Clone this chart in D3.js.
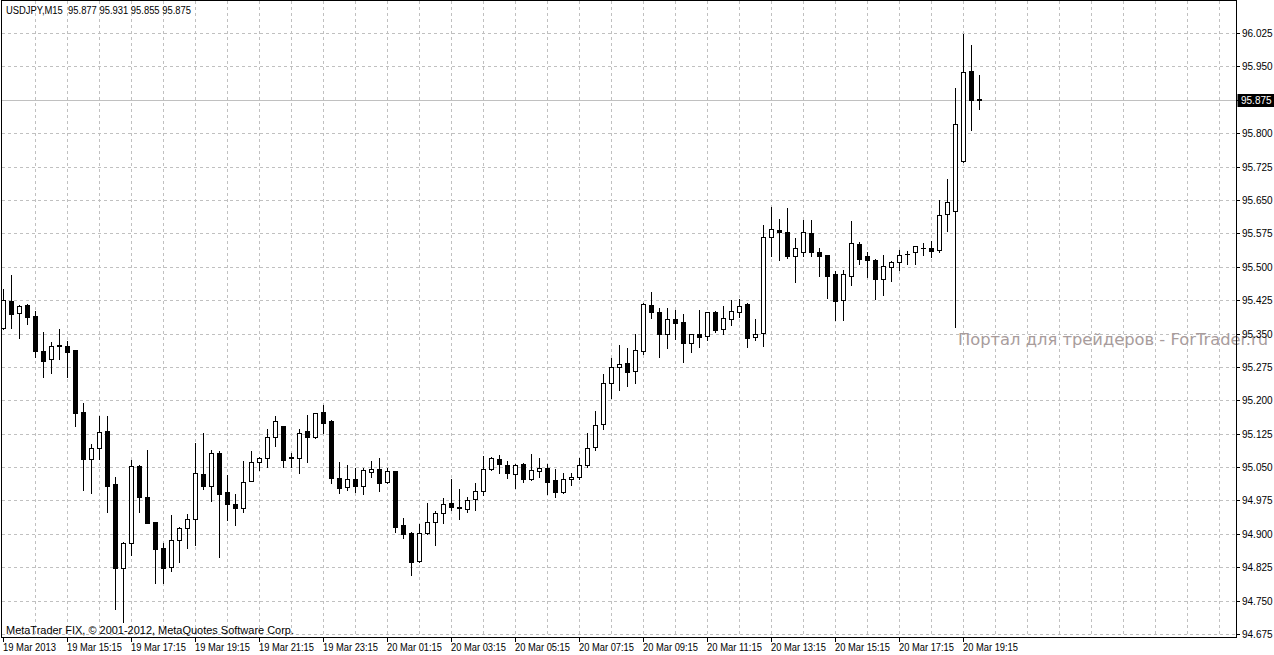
<!DOCTYPE html>
<html><head><meta charset="utf-8">
<script src="https://cdn.jsdelivr.net/npm/d3@7"></script>
<style>html,body{margin:0;padding:0;background:#fff;overflow:hidden}</style>
</head><body>
<svg id="c" width="1274" height="655" xmlns="http://www.w3.org/2000/svg"></svg>
<script>
// ---------------- DATA ----------------
const headerText = "USDJPY,M15  95.877 95.931 95.855 95.875";
const footerText = "MetaTrader FIX, \u00A9 2001-2012, MetaQuotes Software Corp.";
const watermark = "Портал для трейдеров - ForTrader.ru";
const bidPrice = 95.875;

const opens = [95.362,95.423,95.395,95.414,95.389,95.311,95.292,95.323,95.322,95.313,
95.173,95.068,95.092,95.131,95.011,94.824,94.879,95.052,94.982,94.926,
94.868,94.825,94.886,94.912,94.933,95.034,95.008,95.082,94.993,94.966,
94.957,95.019,95.061,95.070,95.117,95.142,95.073,95.070,95.131,95.117,
95.173,95.154,95.026,95.006,95.023,95.008,95.040,95.046,95.016,95.041,
94.920,94.901,94.840,94.901,94.926,94.946,94.969,94.959,94.956,94.978,
94.997,95.045,95.068,95.055,95.034,95.057,95.023,95.042,95.047,95.021,
94.993,95.023,95.027,95.055,95.094,95.146,95.238,95.275,95.283,95.266,
95.311,95.414,95.398,95.348,95.382,95.375,95.328,95.348,95.345,95.398,
95.359,95.382,95.399,95.416,95.343,95.352,95.566,95.583,95.577,95.525,
95.534,95.575,95.532,95.526,95.483,95.425,95.480,95.551,95.524,95.515,
95.472,95.500,95.510,95.528,95.532,95.542,95.542,95.537,95.619,95.626,
95.737,95.939,95.877];
const highs = [95.449,95.481,95.414,95.416,95.401,95.354,95.330,95.360,95.333,95.314,
95.195,95.102,95.165,95.165,95.027,94.881,95.066,95.055,95.088,94.927,
94.879,94.942,94.916,94.945,95.105,95.126,95.088,95.087,95.032,94.990,
95.064,95.086,95.072,95.135,95.165,95.143,95.081,95.135,95.167,95.172,
95.189,95.155,95.062,95.055,95.047,95.049,95.064,95.071,95.047,95.042,
94.935,94.903,94.922,94.969,94.951,94.980,95.023,95.000,94.983,95.014,
95.075,95.072,95.077,95.064,95.057,95.058,95.079,95.070,95.057,95.045,
95.037,95.036,95.070,95.126,95.176,95.258,95.294,95.324,95.317,95.350,
95.418,95.443,95.407,95.407,95.403,95.394,95.350,95.403,95.399,95.400,
95.412,95.425,95.428,95.418,95.383,95.594,95.635,95.607,95.631,95.564,
95.605,95.605,95.541,95.527,95.490,95.493,95.603,95.555,95.532,95.518,
95.526,95.513,95.538,95.535,95.547,95.553,95.557,95.649,95.697,95.901,
96.023,95.999,95.931];
const lows = [95.360,95.362,95.341,95.371,95.298,95.253,95.262,95.293,95.253,95.143,
94.998,94.992,95.067,94.948,94.731,94.703,94.852,94.948,94.924,94.789,
94.790,94.817,94.837,94.868,94.875,95.001,94.974,94.847,94.931,94.920,
94.948,95.018,95.043,95.051,95.098,95.051,95.051,95.037,95.061,95.116,
95.126,95.015,94.992,94.999,94.993,94.990,95.028,94.996,95.015,94.905,
94.890,94.808,94.836,94.900,94.875,94.925,94.954,94.933,94.949,94.954,
94.987,95.044,95.036,95.025,95.004,95.017,95.022,95.028,94.989,94.982,
94.992,95.010,95.023,95.050,95.088,95.135,95.204,95.222,95.232,95.239,
95.304,95.384,95.298,95.318,95.338,95.287,95.309,95.320,95.335,95.354,
95.350,95.369,95.388,95.319,95.335,95.322,95.523,95.515,95.520,95.466,
95.524,95.523,95.480,95.430,95.380,95.380,95.459,95.505,95.478,95.428,
95.437,95.468,95.492,95.505,95.507,95.527,95.521,95.533,95.581,95.365,
95.735,95.808,95.855];
const closes = [95.425,95.393,95.412,95.388,95.311,95.289,95.322,95.324,95.309,95.172,
95.068,95.092,95.128,95.008,94.824,94.879,95.052,94.983,94.925,94.865,
94.824,94.886,94.912,94.933,95.036,95.008,95.082,94.989,94.966,94.957,
95.016,95.061,95.070,95.117,95.153,95.066,95.070,95.126,95.117,95.171,
95.150,95.026,95.004,95.023,95.008,95.043,95.046,95.014,95.041,94.916,
94.899,94.837,94.901,94.926,94.946,94.966,94.961,94.960,94.976,94.996,
95.045,95.070,95.056,95.036,95.055,95.023,95.043,95.047,95.017,94.995,
95.023,95.027,95.055,95.092,95.145,95.238,95.275,95.281,95.264,95.313,
95.416,95.399,95.348,95.382,95.373,95.328,95.349,95.343,95.398,95.358,
95.384,95.401,95.412,95.341,95.350,95.566,95.584,95.577,95.525,95.541,
95.577,95.534,95.523,95.480,95.424,95.483,95.553,95.517,95.515,95.472,
95.502,95.510,95.526,95.529,95.546,95.543,95.535,95.617,95.645,95.821,
95.937,95.875,95.875];

const priceTicks = ["96.025","95.950","95.875","95.800","95.725","95.650","95.575","95.500",
"95.425","95.350","95.275","95.200","95.125","95.050","94.975","94.900","94.825","94.750","94.675"];

const timeLabels = ["19 Mar 2013","19 Mar 15:15","19 Mar 17:15","19 Mar 19:15","19 Mar 21:15",
"19 Mar 23:15","20 Mar 01:15","20 Mar 03:15","20 Mar 05:15","20 Mar 07:15","20 Mar 09:15",
"20 Mar 11:15","20 Mar 13:15","20 Mar 15:15","20 Mar 17:15","20 Mar 19:15"];
const timeLabelBars = [0,8,16,24,32,40,48,56,64,72,80,88,96,104,112,120];

// ---------------- LAYOUT ----------------
const W = 1274, H = 655;
const plotL = 1.5, plotR = 1236.5, plotT = 0.5, plotB = 637.5;
const FONT = "'Liberation Sans', Arial, sans-serif";
const GRID = "#c0c0c0";

const svg = d3.select("#c");
const n = opens.length;
const x = d3.scaleLinear().domain([0, n - 1]).range([3.5, 3.5 + 8 * (n - 1)]);
const y = d3.scaleLinear().domain([94.675, 96.025]).range([634, 33]);
const py = v => Math.round(y(v));

svg.append("rect").attr("width", W).attr("height", H).attr("fill", "#fff");

// grid
const g = svg.append("g").attr("shape-rendering", "crispEdges");
const tickVals = priceTicks.map(Number);
g.selectAll("line.h").data(tickVals).join("line")
  .attr("x1", plotL).attr("x2", plotR)
  .attr("y1", d => py(d) + 0.5).attr("y2", d => py(d) + 0.5)
  .attr("stroke", GRID).attr("stroke-dasharray", "3,3");
const vIdx = d3.range(4, 400, 4).filter(i => x(i) < plotR - 2);
g.selectAll("line.v").data(vIdx).join("line")
  .attr("x1", d => x(d)).attr("x2", d => x(d))
  .attr("y1", plotT).attr("y2", plotB)
  .attr("stroke", GRID).attr("stroke-dasharray", "3,3");

// watermark
svg.append("text").attr("x", 958).attr("y", 345)
  .attr("font-family", "'DejaVu Sans', Verdana, sans-serif").attr("font-size", 15)
  .attr("fill", "#a89c9c").attr("textLength", 310).attr("lengthAdjust", "spacingAndGlyphs")
  .text(watermark);

// bid line
g.append("line").attr("x1", plotL).attr("x2", plotR)
  .attr("y1", py(bidPrice) + 0.5).attr("y2", py(bidPrice) + 0.5).attr("stroke", GRID);

// candles
const bars = d3.range(n).map(i => ({i, o: opens[i], h: highs[i], l: lows[i], c: closes[i]}));
const cg = svg.append("g").attr("shape-rendering", "crispEdges");
cg.selectAll("line.wick").data(bars).join("line")
  .attr("x1", d => x(d.i)).attr("x2", d => x(d.i))
  .attr("y1", d => py(d.h)).attr("y2", d => py(d.l) + 1)
  .attr("stroke", "#000");
bars.forEach(d => {
  const cx = Math.floor(x(d.i));
  const top = Math.min(py(d.o), py(d.c));
  const bot = Math.max(py(d.o), py(d.c));
  if (d.c < d.o) {
    cg.append("rect").attr("x", cx - 2).attr("y", top).attr("width", 5)
      .attr("height", bot - top + 1).attr("fill", "#000");
  } else if (bot - top >= 1) {
    cg.append("rect").attr("x", cx - 1.5).attr("y", top + 0.5).attr("width", 4)
      .attr("height", bot - top).attr("fill", "#fff").attr("stroke", "#000");
  } else {
    cg.append("line").attr("x1", cx - 2).attr("x2", cx + 3)
      .attr("y1", top + 0.5).attr("y2", top + 0.5).attr("stroke", "#000");
  }
});

// frame
svg.append("rect").attr("x", plotL).attr("y", plotT)
  .attr("width", plotR - plotL).attr("height", plotB - plotT)
  .attr("fill", "none").attr("stroke", "#000").attr("shape-rendering", "crispEdges");

// price axis
const ag = svg.append("g");
ag.selectAll("line.pt").data(tickVals).join("line")
  .attr("x1", plotR).attr("x2", plotR + 3)
  .attr("y1", d => py(d) + 0.5).attr("y2", d => py(d) + 0.5)
  .attr("stroke", "#000").attr("shape-rendering", "crispEdges");
ag.selectAll("text.pl").data(priceTicks).join("text")
  .attr("x", 1242).attr("y", d => py(+d) + 4)
  .attr("font-family", FONT).attr("font-size", 10).attr("fill", "#000")
  .text(d => d);

// bid box
const by = py(bidPrice);
svg.append("rect").attr("x", plotR + 1).attr("y", by - 6).attr("width", W - plotR)
  .attr("height", 13).attr("fill", "#000");
svg.append("text").attr("x", 1241).attr("y", by + 4)
  .attr("font-family", FONT).attr("font-size", 10).attr("fill", "#fff")
  .text(bidPrice.toFixed(3));

// time axis
const tg = svg.append("g");
tg.selectAll("line.tt").data(timeLabelBars).join("line")
  .attr("x1", d => x(d)).attr("x2", d => x(d))
  .attr("y1", plotB).attr("y2", plotB + 4)
  .attr("stroke", "#000").attr("shape-rendering", "crispEdges");
tg.selectAll("text.tl").data(timeLabels).join("text")
  .attr("x", (d, k) => x(timeLabelBars[k]) - 0.5).attr("y", 651)
  .attr("font-family", FONT).attr("font-size", 10).attr("fill", "#000")
  .attr("textLength", (d, k) => k === 0 ? 53 : 55).attr("lengthAdjust", "spacingAndGlyphs")
  .text(d => d);

// header & footer
svg.append("text").attr("x", 6).attr("y", 14)
  .attr("font-family", FONT).attr("font-size", 10).attr("fill", "#000")
  .attr("textLength", 185).attr("lengthAdjust", "spacingAndGlyphs")
  .attr("xml:space", "preserve").style("white-space", "pre")
  .text(headerText);
svg.append("text").attr("x", 6).attr("y", 634)
  .attr("font-family", FONT).attr("font-size", 10).attr("fill", "#000")
  .attr("textLength", 288).attr("lengthAdjust", "spacingAndGlyphs")
  .text(footerText);
</script>
</body></html>
